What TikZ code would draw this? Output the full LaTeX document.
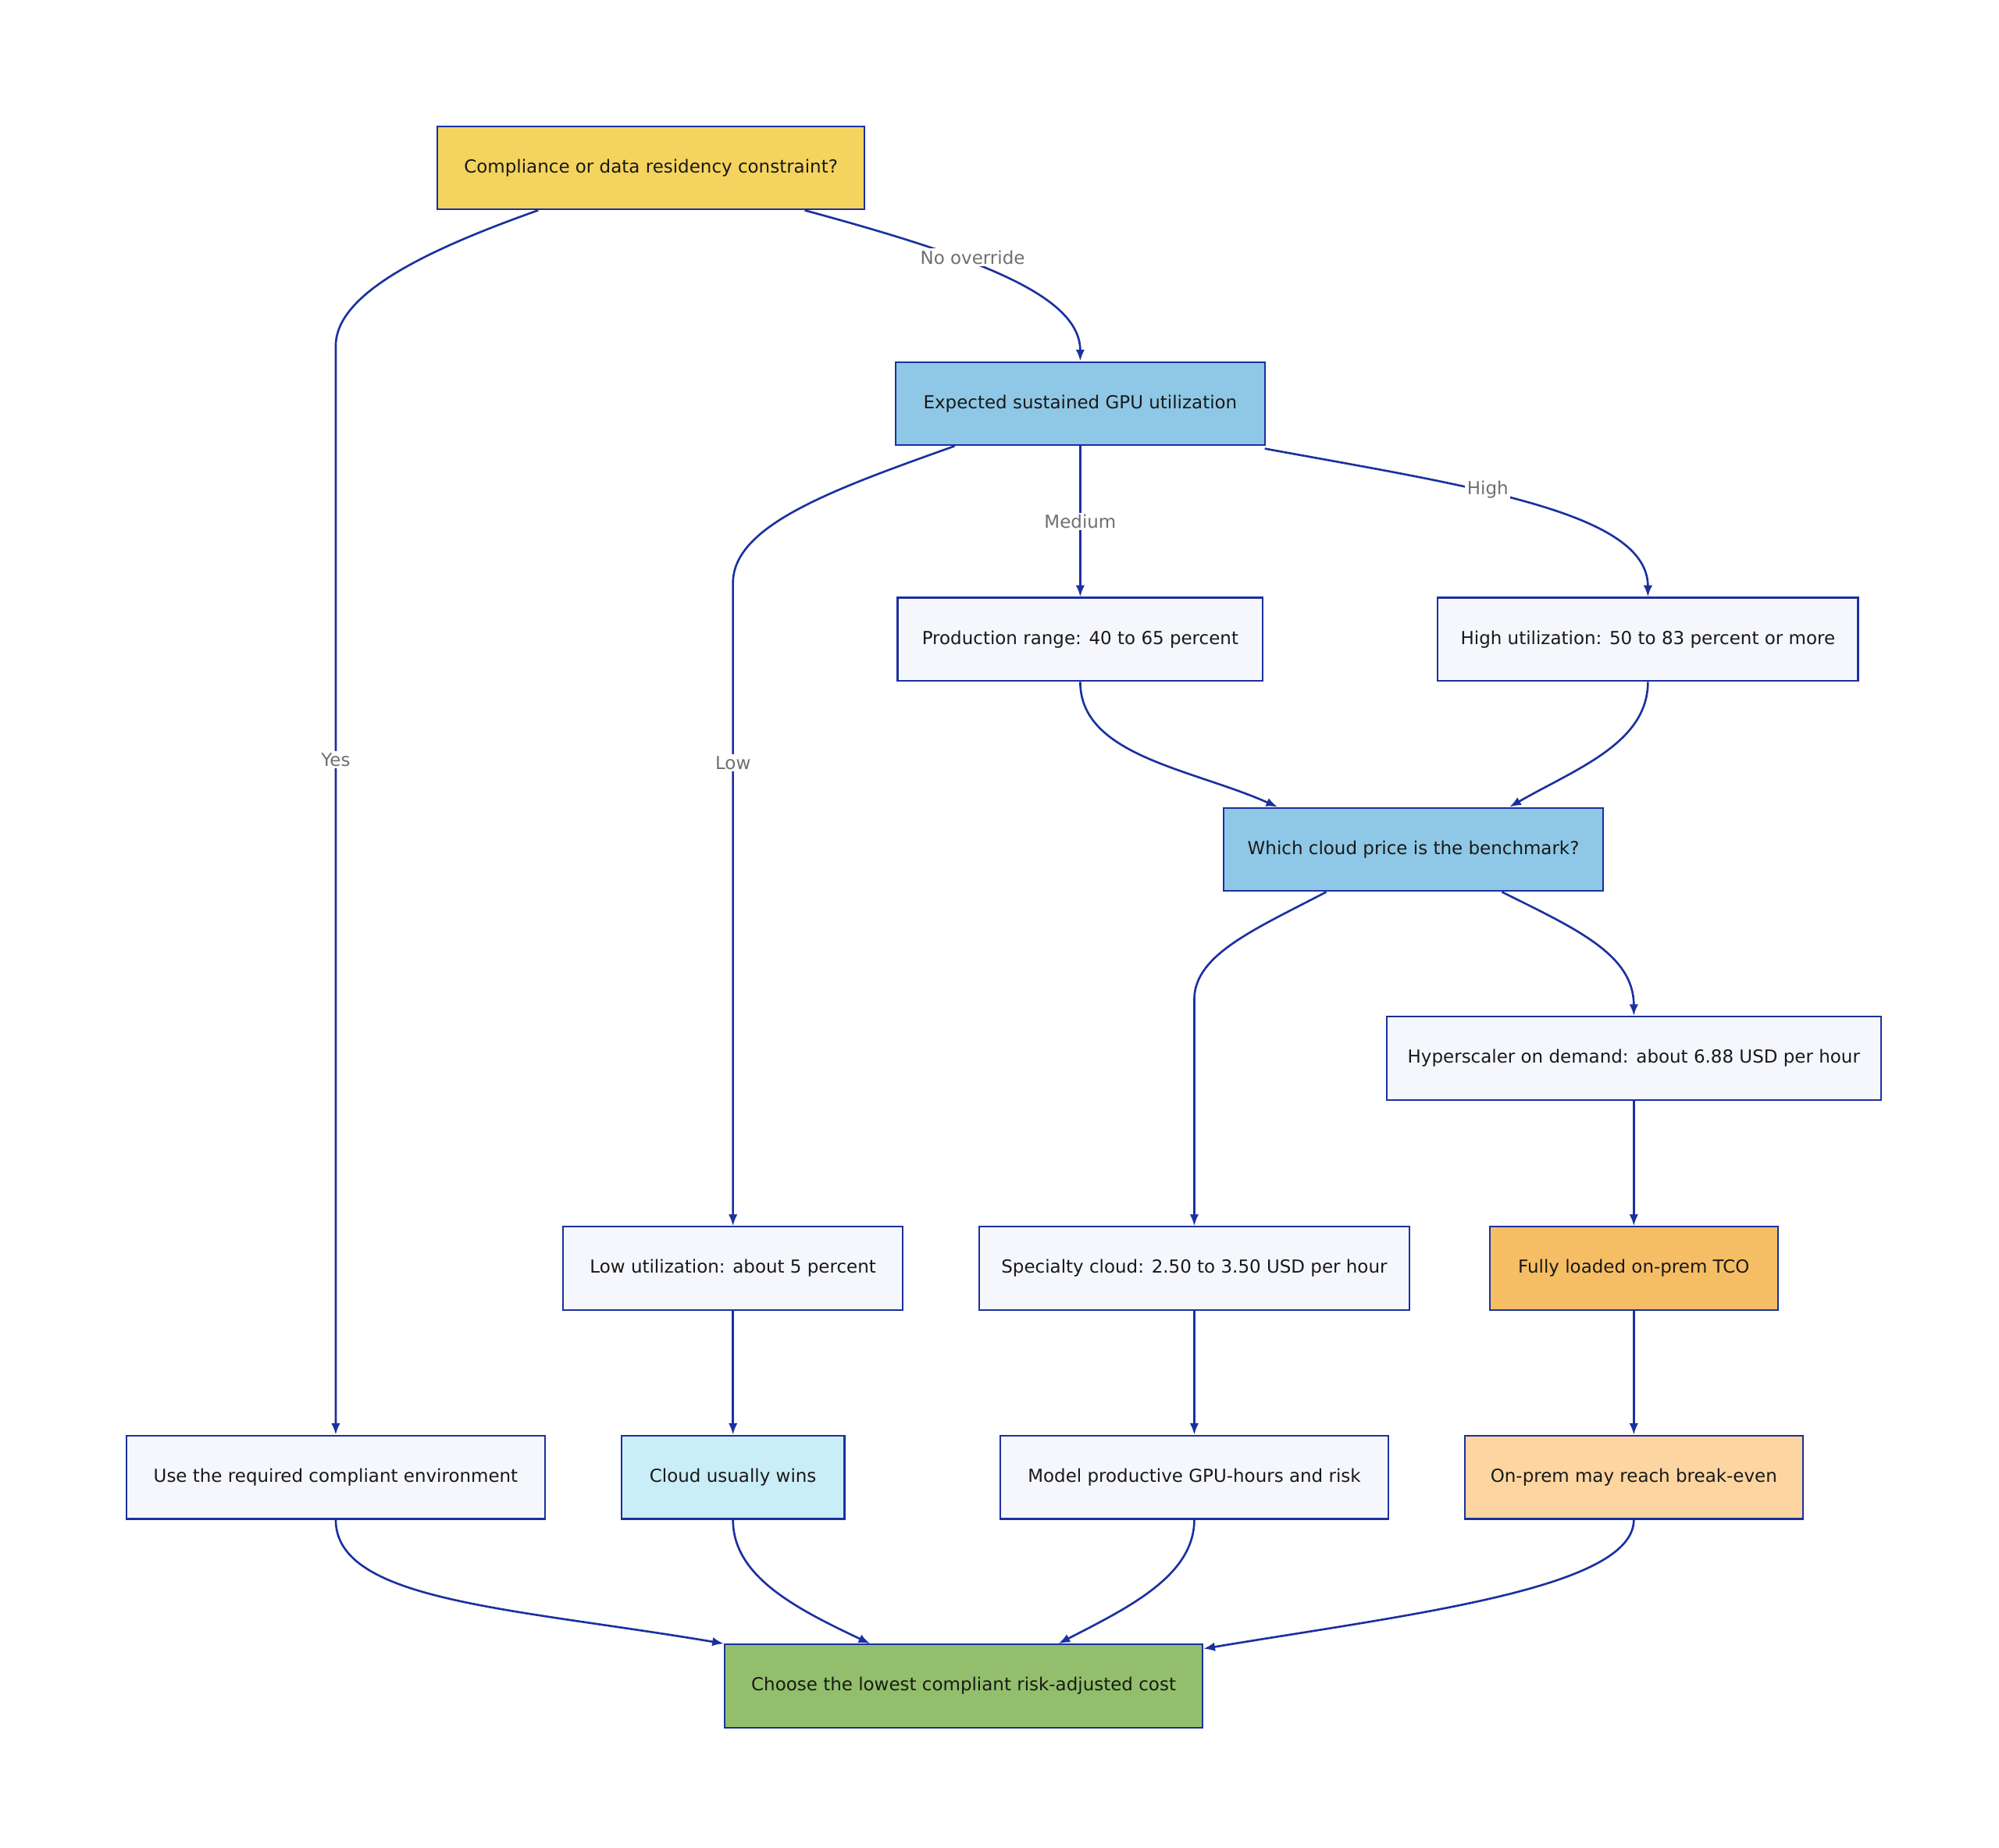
\documentclass[tikz,border=0pt]{standalone}
\usepackage{fontspec}
\setmainfont{DejaVu Sans}
\usetikzlibrary{arrows.meta,calc}
\definecolor{bd}{HTML}{1B30A0}
\definecolor{cyel}{HTML}{F4D35E}
\definecolor{cblu}{HTML}{8FC8E6}
\definecolor{clt}{HTML}{F5F7FD}
\definecolor{ccy}{HTML}{C9EEF7}
\definecolor{cor}{HTML}{F5BE64}
\definecolor{cpe}{HTML}{FDD5A0}
\definecolor{cgr}{HTML}{93BF6C}
\definecolor{lbl}{HTML}{707070}
\begin{document}
\begin{tikzpicture}[x=1pt,y=-1pt,
 box/.style={draw=bd,line width=1.3pt,minimum height=65pt,inner sep=0pt,font=\fontsize{14}{16}\selectfont,text=black!90},
 e/.style={draw=bd,line width=1.6pt,-{Latex[length=9pt,width=7pt]}},
 lab/.style={fill=white,text=lbl,inner sep=1.5pt,font=\fontsize{14}{16}\selectfont}]
\useasboundingbox[fill=white] (0,0) rectangle (1560,1442);
\node[box,fill=cyel,minimum width=333pt] (c1) at (508,131) {Compliance or data residency constraint?};
\node[box,fill=cblu,minimum width=288pt] (util) at (843,315) {Expected sustained GPU utilization};
\node[box,fill=clt,minimum width=285pt] (prod) at (843,499) {Production range: 40 to 65 percent};
\node[box,fill=clt,minimum width=328pt] (high) at (1286,499) {High utilization: 50 to 83 percent or more};
\node[box,fill=cblu,minimum width=296pt] (which) at (1103,663) {Which cloud price is the benchmark?};
\node[box,fill=clt,minimum width=386pt] (hyper) at (1275,826) {Hyperscaler on demand: about 6.88 USD per hour};
\node[box,fill=clt,minimum width=265pt] (lowu) at (572,990) {Low utilization: about 5 percent};
\node[box,fill=clt,minimum width=336pt] (spec) at (932,990) {Specialty cloud: 2.50 to 3.50 USD per hour};
\node[box,fill=cor,minimum width=225pt] (tco) at (1275,990) {Fully loaded on-prem TCO};
\node[box,fill=clt,minimum width=327pt] (use) at (262,1153) {Use the required compliant environment};
\node[box,fill=ccy,minimum width=174pt] (cloud) at (572,1153) {Cloud usually wins};
\node[box,fill=clt,minimum width=303pt] (model) at (932,1153) {Model productive GPU-hours and risk};
\node[box,fill=cpe,minimum width=264pt] (onprem) at (1275,1153) {On-prem may reach break-even};
\node[box,fill=cgr,minimum width=373pt] (choose) at (752,1316) {Choose the lowest compliant risk-adjusted cost};
\coordinate (k1) at (262,270);
\coordinate (k2) at (572,455);
\coordinate (k3) at (932,780);
% edges
\draw[e] ([xshift=-88pt]c1.south) .. controls (330,196) and (262,230) .. (k1) -- node[lab,pos=0.38]{Yes} (use.north);
\draw[e] ([xshift=120pt]c1.south) .. controls (760,200) and (843,230) .. (util.north);
\node[lab] (nol) at (759,201) {No override};
\draw[e] ([xshift=-98pt]util.south) .. controls (650,382) and (572,410) .. (k2) -- node[lab,pos=0.28]{Low} (lowu.north);
\draw[e] (util.south) -- node[lab]{Medium} (prod.north);
\draw[e] ([xshift=144pt,yshift=-2pt]util.south) .. controls (1150,380) and (1286,400) .. (high.north);
\node[lab] (hil) at (1161,382) {High};
\draw[e] (prod.south) .. controls (843,590) and (930,600) .. ([xshift=-106pt]which.north);
\draw[e] (high.south) .. controls (1286,580) and (1230,600) .. ([xshift=75pt]which.north);
\draw[e] ([xshift=-68pt]which.south) .. controls (980,725) and (932,745) .. (k3) -- (spec.north);
\draw[e] ([xshift=69pt]which.south) .. controls (1230,725) and (1275,745) .. (hyper.north);
\draw[e] (hyper.south) -- (tco.north);
\draw[e] (tco.south) -- (onprem.north);
\draw[e] (lowu.south) -- (cloud.north);
\draw[e] (spec.south) -- (model.north);
\draw[e] (use.south) .. controls (262,1250) and (400,1255) .. (choose.north west);
\draw[e] (cloud.south) .. controls (572,1230) and (620,1255) .. ([xshift=-73pt]choose.north);
\draw[e] (model.south) .. controls (932,1230) and (880,1255) .. ([xshift=74pt]choose.north);
\draw[e] (onprem.south) .. controls (1275,1240) and (1100,1260) .. ([yshift=-4pt]choose.north east);
\end{tikzpicture}
\end{document}
